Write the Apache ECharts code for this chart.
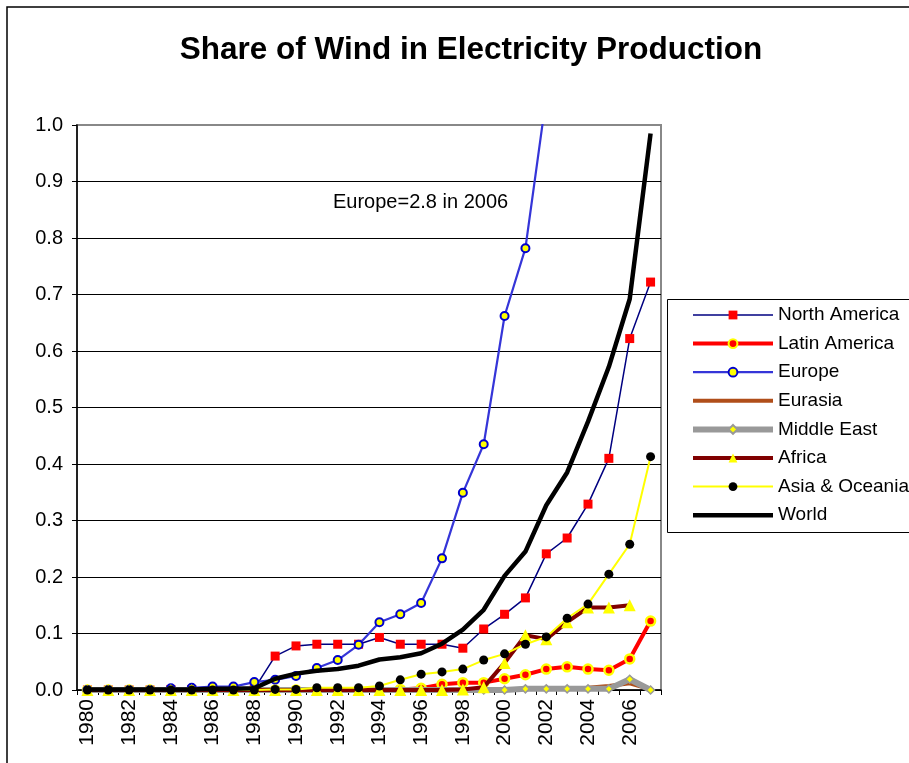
<!DOCTYPE html>
<html>
<head>
<meta charset="utf-8">
<script src="https://cdn.jsdelivr.net/npm/echarts@6/dist/echarts.min.js"></script>
<style>
html,body{margin:0;padding:0;background:#fff;}
#chart{width:909px;height:763px;}
</style>
</head>
<body>
<div id="chart"></div>
<script>
var years = ['1980','1981','1982','1983','1984','1985','1986','1987','1988','1989','1990','1991','1992','1993','1994','1995','1996','1997','1998','1999','2000','2001','2002','2003','2004','2005','2006','2007'];
var northAmerica = [0,0,0,0,0.001,0.001,0.001,0.001,0.002,0.060,0.078,0.081,0.081,0.081,0.093,0.081,0.081,0.081,0.074,0.108,0.134,0.163,0.241,0.269,0.329,0.410,0.622,0.722];
var latinAmerica = [0,0,0,0,0,0,0,0,0,0,0,0,0,0,0,0.001,0.003,0.010,0.013,0.013,0.020,0.027,0.037,0.041,0.037,0.035,0.055,0.122];
var europe = [0,0,0,0,0.003,0.004,0.006,0.006,0.014,0.018,0.025,0.039,0.053,0.080,0.120,0.134,0.154,0.233,0.349,0.435,0.662,0.782,1.05,1.3,1.7,2.1,2.8,3.0];
var eurasia = [0,0,0,0,0,0,0,0,0,0,0,0,0,0,0,0,0,0,0,0,0.001,0.002,0.002,0.003,0.004,0.007,0.012,0.001];
var middleEast = [0,0,0,0,0,0,0,0,0,0,0,0,0,0,0,0,0,0,0,0,0,0.002,0.002,0.002,0.002,0.002,0.019,0];
var africa = [0,0,0,0,0,0,0,0,0,0,0,0,0,0,0,0,0,0,0.001,0.005,0.048,0.097,0.090,0.120,0.146,0.146,0.150,null];
var asiaOceania = [0,0,0,0,0,0,0,0,0,0.001,0.001,0.004,0.004,0.004,0.007,0.018,0.028,0.032,0.037,0.053,0.064,0.081,0.094,0.127,0.152,0.205,0.258,0.413];
var world = [0.001,0.001,0.001,0.001,0.001,0.001,0.002,0.002,0.003,0.020,0.029,0.034,0.037,0.043,0.054,0.058,0.065,0.082,0.107,0.142,0.202,0.245,0.327,0.385,0.475,0.572,0.692,0.985];
var seriesNames = ['North America','Latin America','Europe','Eurasia','Middle East','Africa','Asia & Oceania','World'];
var titleText = 'Share of Wind in Electricity Production';
var noteText = 'Europe=2.8 in 2006';

var FONT = "'Liberation Sans', Arial, sans-serif";
var chart = echarts.init(document.getElementById('chart'), null, {renderer:'canvas'});

var lineStyles = [
  {color: '#000080', width: 1.5},
  {color: '#FF0000', width: 4},
  {color: '#3535D8', width: 2.2},
  {color: '#B04E1A', width: 4},
  {color: '#999999', width: 6},
  {color: '#800000', width: 4},
  {color: '#FFFF00', width: 2},
  {color: '#000000', width: 4.5}
];
var symbols = [
  {symbol: 'rect', size: 9, item: {color: '#FF0000', borderWidth: 0}},
  {symbol: 'circle', size: 9, item: {color: '#FF0000', borderColor: '#FFFF00', borderWidth: 2.5}},
  {symbol: 'circle', size: 8, item: {color: '#FFFF00', borderColor: '#0000CC', borderWidth: 2}},
  null,
  {symbol: 'diamond', size: 8, item: {color: '#FFFF00', borderColor: '#999999', borderWidth: 1.5}},
  {symbol: 'triangle', size: 12, item: {color: '#FFFF00', borderWidth: 0}},
  {symbol: 'circle', size: 9, item: {color: '#000000', borderWidth: 0}},
  null
];
var allData = [northAmerica, latinAmerica, europe, eurasia, middleEast, africa, asiaOceania, world];

var series = allData.map(function(d, i){
  var s = {name: seriesNames[i], type: 'line', data: d, z: 2 + i, lineStyle: lineStyles[i], animation: false, emphasis: {disabled: true}};
  var sym = symbols[i];
  if (sym) { s.symbol = sym.symbol; s.symbolSize = sym.size; s.showSymbol = true; s.itemStyle = sym.item; }
  else { s.symbol = 'none'; s.itemStyle = {color: lineStyles[i].color}; }
  return s;
});

var legendData = seriesNames.map(function(n, i){
  var item = {name: n, lineStyle: {width: lineStyles[i].width, color: lineStyles[i].color}};
  if (!symbols[i]) item.itemStyle = {opacity: 0};
  return item;
});

var gridColors = ['#000','#000','#000','#000','#000','#000','#000','#000','#000','#000','#888'];

chart.setOption({
  backgroundColor: '#fff',
  animation: false,
  textStyle: {fontFamily: FONT},
  title: {
    text: titleText, left: 466, top: 29, textAlign: 'center',
    textStyle: {fontFamily: FONT, fontSize: 31.5, fontWeight: 'bold', color: '#000'}
  },
  grid: {left: 77, top: 125, width: 584, height: 565, show: true, borderColor: '#888', borderWidth: 2, backgroundColor: 'transparent'},
  legend: {
    orient: 'vertical', left: 690, top: 305, itemWidth: 80, itemHeight: 11, itemGap: 8.6,
    textStyle: {fontFamily: FONT, fontSize: 19, color: '#000', lineHeight: 20},
    padding: 0, selectedMode: false,
    data: legendData
  },
  xAxis: {
    type: 'category', data: years, boundaryGap: true,
    axisLine: {lineStyle: {color: '#000', width: 1.5}},
    axisTick: {show: true, interval: 0, length: 5, lineStyle: {color: '#000'}},
    axisLabel: {interval: 1, rotate: 90, fontSize: 21, color: '#000', fontFamily: FONT, margin: 9},
    splitLine: {show: false}
  },
  yAxis: {
    type: 'value', min: 0, max: 1.0, interval: 0.1,
    axisLine: {show: true, lineStyle: {color: '#000', width: 1.5}},
    axisTick: {show: true, length: 5, lineStyle: {color: '#000'}},
    axisLabel: {fontSize: 20, color: '#000', fontFamily: FONT, margin: 14, formatter: function(v){return v.toFixed(1);}},
    splitLine: {show: true, lineStyle: {color: gridColors, width: 1}}
  },
  graphic: [
    {type: 'rect', shape: {x: 7, y: 7, width: 1000, height: 1000}, style: {fill: 'none', stroke: '#000', lineWidth: 1.5}, silent: true, z: -1},
    {type: 'rect', shape: {x: 667.5, y: 299.5, width: 260, height: 233}, style: {fill: 'none', stroke: '#000', lineWidth: 1}, silent: true, z: 1},
    {type: 'text', left: 333, top: 192, style: {text: noteText, font: '20px ' + FONT, fill: '#000'}, silent: true, z: 20}
  ],
  series: series
});
</script>
</body>
</html>
